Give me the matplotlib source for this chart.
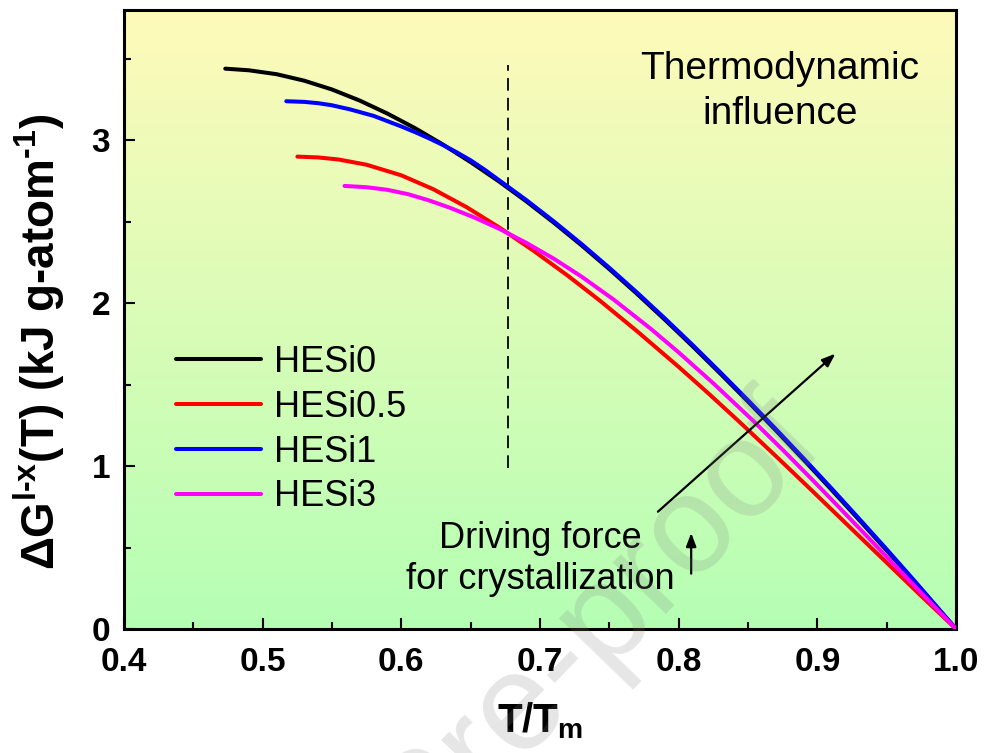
import numpy as np
import matplotlib
matplotlib.use("Agg")
import matplotlib.pyplot as plt
from matplotlib.ticker import MultipleLocator, FormatStrFormatter

plt.rcParams["font.family"] = ["Liberation Sans", "DejaVu Sans"]
plt.rcParams["mathtext.fontset"] = "custom"
plt.rcParams["mathtext.rm"] = "Liberation Sans:bold"
plt.rcParams["mathtext.it"] = "Liberation Sans:bold"
plt.rcParams["mathtext.bf"] = "Liberation Sans:bold"

# -----------------------------
# DATA  (T/Tm vs dG in kJ per g-atom)
# -----------------------------
t_hesi0 = [0.473, 0.49, 0.51, 0.53, 0.55, 0.57, 0.59, 0.61, 0.63, 0.65,
           0.67, 0.69, 0.71, 0.73, 0.75, 0.77, 0.79, 0.81, 0.83, 0.85,
           0.87, 0.89, 0.91, 0.93, 0.95, 0.97, 1.0]
g_hesi0 = [3.440, 3.430, 3.406, 3.366, 3.312, 3.244, 3.164, 3.074, 2.974, 2.866,
           2.750, 2.626, 2.494, 2.355, 2.209, 2.057, 1.899, 1.736, 1.568, 1.396,
           1.220, 1.040, 0.857, 0.671, 0.482, 0.291, 0.0]

t_hesi05 = [0.525, 0.54, 0.555, 0.575, 0.60, 0.623, 0.647, 0.671, 0.695, 0.72,
            0.743, 0.77, 0.80, 0.822, 0.844, 0.87, 0.893, 0.916, 0.95, 0.975, 1.0]
g_hesi05 = [2.900, 2.895, 2.882, 2.850, 2.785, 2.700, 2.590, 2.463, 2.324, 2.169,
            2.017, 1.828, 1.609, 1.442, 1.270, 1.062, 0.875, 0.686, 0.407, 0.202, 0.0]

t_hesi1 = [0.517, 0.53, 0.54, 0.55, 0.563, 0.58, 0.60, 0.61, 0.62, 0.63,
           0.64, 0.65, 0.66, 0.67, 0.69, 0.71, 0.73, 0.75, 0.77, 0.79,
           0.81, 0.83, 0.85, 0.87, 0.89, 0.91, 0.93, 0.95, 0.97, 1.0]
g_hesi1 = [3.240, 3.236, 3.228, 3.215, 3.190, 3.150, 3.085, 3.050, 3.012, 2.971,
           2.926, 2.877, 2.820, 2.758, 2.634, 2.502, 2.363, 2.217, 2.065, 1.907,
           1.744, 1.576, 1.404, 1.228, 1.048, 0.865, 0.678, 0.489, 0.296, 0.0]

t_hesi3 = [0.559, 0.575, 0.59, 0.605, 0.62, 0.635, 0.653, 0.671, 0.69, 0.71,
           0.73, 0.753, 0.78, 0.80, 0.825, 0.853, 0.875, 0.895, 0.916, 0.94,
           0.97, 1.0]
g_hesi3 = [2.720, 2.712, 2.696, 2.669, 2.631, 2.586, 2.525, 2.455, 2.371, 2.273,
           2.163, 2.023, 1.842, 1.698, 1.508, 1.284, 1.100, 0.928, 0.744, 0.532,
           0.265, 0.0]

series = [
    ("HESi0", t_hesi0, g_hesi0, "black"),
    ("HESi0.5", t_hesi05, g_hesi05, "#ff0000"),
    ("HESi1", t_hesi1, g_hesi1, "#0000ff"),
    ("HESi3", t_hesi3, g_hesi3, "#ff00ff"),
]

# dashed marker line and the two annotation arrows
t_mark = 0.677
g_mark = [0.99, 3.46]
arrow_main = [(0.785, 0.72), (0.913, 1.69)]
arrow_small = [(0.809, 0.34), (0.809, 0.59)]

# -----------------------------
# FIGURE
# -----------------------------
fig = plt.figure(figsize=(9.86, 7.53), dpi=100)
ax = fig.add_axes([0.1258, 0.1647, 0.8438, 0.822])

xlim = (0.4, 1.0)
ylim = (0.0, 3.8)

# yellow -> green background
top = np.array([255, 250, 186]) / 255
bottom = np.array([180, 255, 180]) / 255
frac = np.linspace(0, 1, 256)[:, None]
grad = (top * (1 - frac) + bottom * frac)[:, None, :]
ax.imshow(grad, extent=[xlim[0], xlim[1], ylim[0], ylim[1]],
          aspect="auto", origin="upper", zorder=0)

for name, t, g, color in series:
    ax.plot(t, g, color=color, lw=2.9, label=name, zorder=3,
            solid_capstyle="round", solid_joinstyle="round")

ax.plot([t_mark, t_mark], g_mark, color="black", lw=1.3,
        linestyle=(0, (7, 4)), zorder=2)

head = "-|>,head_length=0.8,head_width=0.3"
ax.annotate("", xy=arrow_main[1], xytext=arrow_main[0],
            arrowprops=dict(arrowstyle=head, color="black", lw=1.6,
                            shrinkA=0, shrinkB=0), zorder=4)
ax.annotate("", xy=arrow_small[1], xytext=arrow_small[0],
            arrowprops=dict(arrowstyle=head, color="black", lw=1.6,
                            shrinkA=0, shrinkB=0), zorder=4)

ax.text(0.873, 3.30, "Thermodynamic\ninfluence", fontsize=28,
        ha="center", va="center", linespacing=1.32)
ax.text(0.7, 0.43, "Driving force\nfor crystallization", fontsize=26,
        ha="center", va="center", linespacing=1.25)

ax.set_xlim(*xlim)
ax.set_ylim(*ylim)
ax.xaxis.set_major_locator(MultipleLocator(0.1))
ax.xaxis.set_minor_locator(MultipleLocator(0.05))
ax.yaxis.set_major_locator(MultipleLocator(1))
ax.yaxis.set_minor_locator(MultipleLocator(0.5))
ax.xaxis.set_major_formatter(FormatStrFormatter("%.1f"))
ax.yaxis.set_major_formatter(FormatStrFormatter("%d"))

ax.tick_params(which="both", direction="in", width=1.5, top=False, right=False)
ax.tick_params(which="major", length=8, labelsize=24)
ax.tick_params(axis="x", which="major", pad=13)
ax.tick_params(axis="y", which="major", pad=10)
ax.tick_params(which="minor", length=5)
for lab in ax.get_xticklabels() + ax.get_yticklabels():
    lab.set_fontweight("bold")
for sp in ax.spines.values():
    sp.set_linewidth(2.2)

ax.set_xlabel(r"T/T$_{\mathregular{m}}$", fontsize=29, fontweight="bold",
              labelpad=16)
ax.set_ylabel(r"$\Delta$G$^{\mathregular{l\text{-}x}}$(T) (kJ g-atom$^{\mathregular{\text{-}1}}$)",
              fontsize=33, fontweight="bold")
ax.yaxis.set_label_coords(-0.068, 0.464)

ax.legend(loc="center left", bbox_to_anchor=(0.0625, 0.322), frameon=False,
          fontsize=26, handlelength=2.35, handletextpad=0.35,
          labelspacing=0.27, borderpad=0, borderaxespad=0)

# faint proof watermark across the page
fig.text(0.838, 0.405, "Journal Pre-proof", fontsize=100, color="#808080",
         alpha=0.2, rotation=46, rotation_mode="anchor",
         ha="right", va="baseline", zorder=10)

fig.savefig("out.png", dpi=100)
